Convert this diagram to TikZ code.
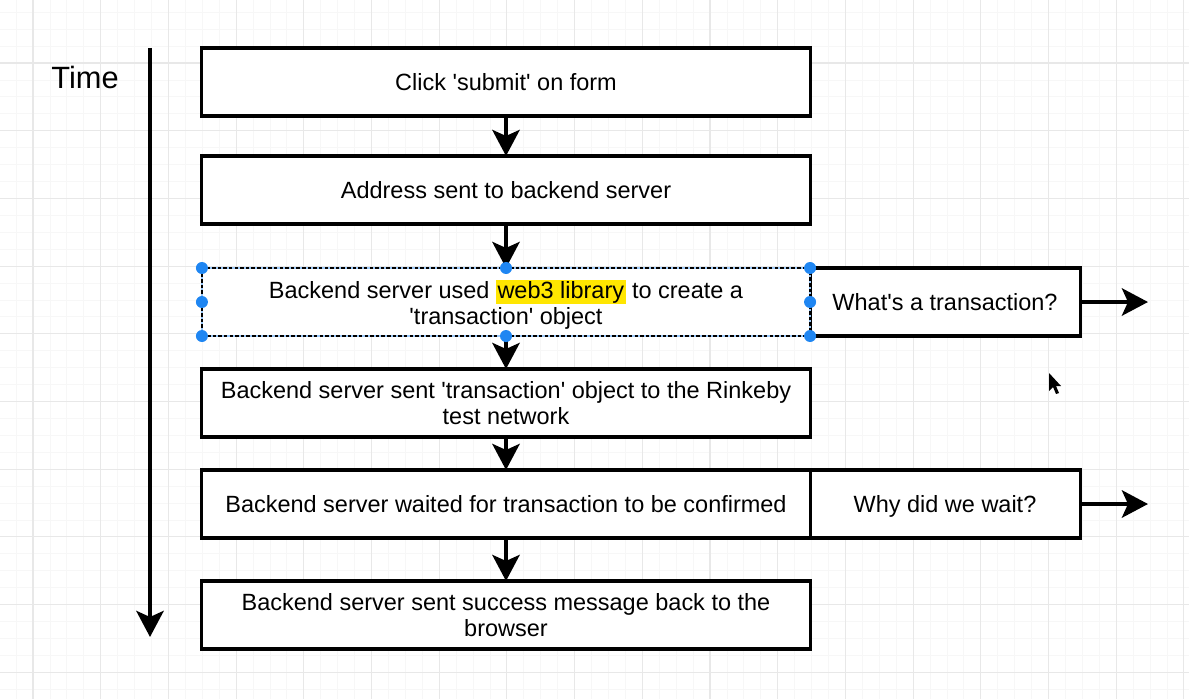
\documentclass[tikz,border=0pt]{standalone}
\usepackage{fontspec}
\setmainfont{Liberation Sans}
\usetikzlibrary{arrows.meta,positioning,calc}

\definecolor{gridmajor}{RGB}{232,232,232}
\definecolor{gridminor}{RGB}{247,247,247}
\definecolor{hlyellow}{RGB}{255,230,0}
\definecolor{selblue}{RGB}{31,134,242}

\newcommand{\sq}{\textquotesingle}
\newcommand{\hlword}[1]{{\setlength{\fboxsep}{1pt}\colorbox{hlyellow}{#1}}}

\begin{document}
\begin{tikzpicture}[x=0.025cm, y=-0.025cm,
    stepbox/.style={draw, line width=2.2pt, fill=white, minimum width=15.2cm,
      minimum height=1.7cm, inner sep=0pt, outer sep=0pt, align=center,
      text depth=0pt, font=\fontsize{16.7}{18.5}\selectfont},
    sidebox/.style={stepbox, minimum width=6.75cm},
    flow/.style={line width=3.2pt, -{Stealth[length=0.65cm, width=0.68cm, inset=0.15cm]}},
    handle/.style={circle, fill=selblue, inner sep=0pt, minimum size=0.3cm}]

    \useasboundingbox (0,0) rectangle (1189,699);

    % Grid
    \foreach \i in {0,...,72}
        \draw[gridminor, line width=0.6pt] ({-34.7+16.925*\i},0) -- ++(0,699);
    \foreach \j in {0,...,41}
        \draw[gridminor, line width=0.6pt] (0,{-4.7+16.925*\j}) -- ++(1189,0);
    \foreach \i in {0,...,18}
        \draw[gridmajor, line width=0.8pt] ({-34.7+67.7*\i},0) -- ++(0,699);
    \foreach \j in {0,...,10}
        \draw[gridmajor, line width=0.8pt] (0,{-4.7+67.7*\j}) -- ++(1189,0);

    % Time axis
    \node[font=\fontsize{21.9}{26}\selectfont] (time) at (85,77) {Time};
    \coordinate (ttop) at (150,48);
    \coordinate (tend) at (150,637);
    \draw[flow] (ttop) -- (tend);

    % Steps
    \node[stepbox] (submit) at (506,82) {Click \sq{}submit\sq{} on form};
    \node[stepbox] (address) at (506,190) {Address sent to backend server};
    \node[sidebox] (whattx) at (945,302) {What\sq{}s a transaction?};
    \node[stepbox, draw=none] (web3) at (506,302)
        {Backend server used \hlword{web3 library} to create a\\ \sq{}transaction\sq{} object};
    \node[stepbox] (sendtx) at (506,403)
        {Backend server sent \sq{}transaction\sq{} object to the Rinkeby\\ test network};
    \node[sidebox] (whywait) at (945,504) {Why did we wait?};
    \node[stepbox] (confirm) at (506,504) {Backend server waited for transaction to be confirmed};
    \node[stepbox] (success) at (506,615)
        {Backend server sent success message back to the\\ browser};

    % Flow
    \draw[flow] (submit) -- (address);
    \draw[flow] (address) -- (web3);
    \draw[flow] (web3) -- (sendtx);
    \draw[flow] (sendtx) -- (confirm);
    \draw[flow] (confirm) -- (success);
    \coordinate (whatnext) at (1148,302);
    \coordinate (whynext) at (1148,504);
    \draw[flow] (whattx) -- (whatnext);
    \draw[flow] (whywait) -- (whynext);

    % Selection
    \draw[selblue!45, line width=1.8pt] (web3.north west) rectangle (web3.south east);
    \draw[dash pattern=on 2.5pt off 1.5pt, line width=1.8pt] (web3.north west) rectangle (web3.south east);
    \foreach \a [count=\k] in {north west, north, north east, west, east, south west, south, south east}
        \node[handle] (hdl\k) at (web3.\a) {};

    % Cursor
    \fill (1049,373) -- (1049,391) -- (1053,387) -- (1056,394) -- (1059,393)
        -- (1056,386) -- (1061,386) -- cycle;
\end{tikzpicture}
\end{document}
